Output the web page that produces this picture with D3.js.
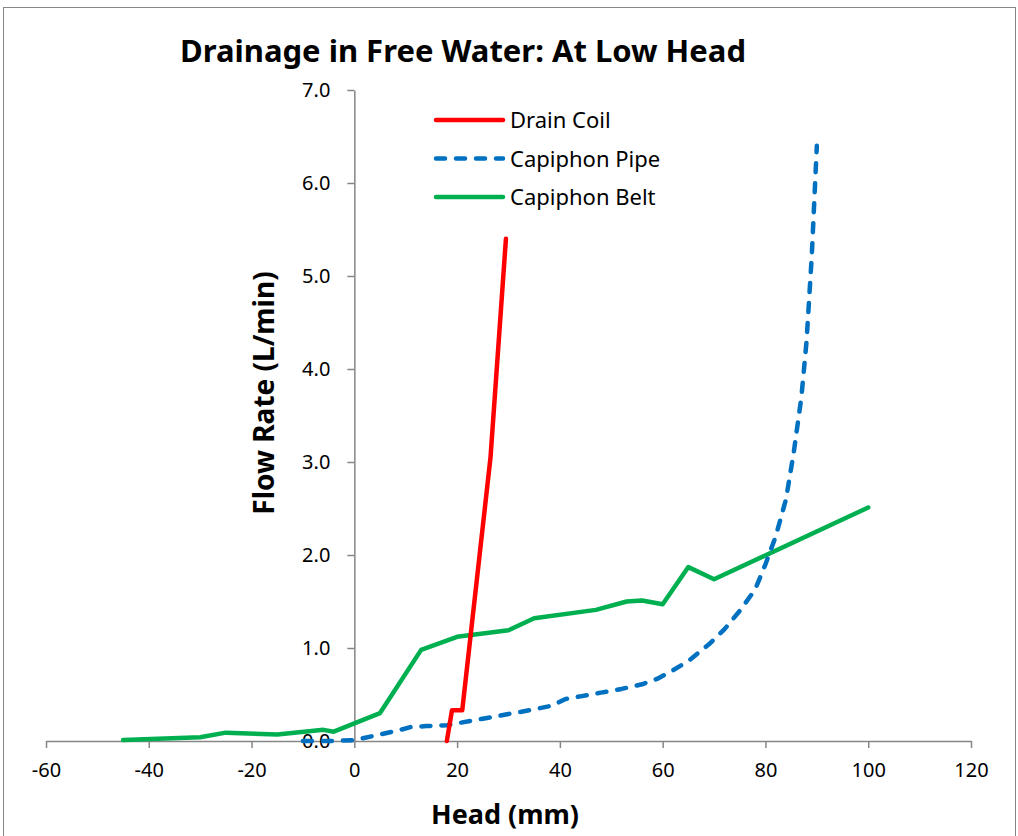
<!DOCTYPE html>
<html><head><meta charset="utf-8">
<script src="https://cdn.jsdelivr.net/npm/d3@7"></script>
<style>body{margin:0;background:#fff}svg{display:block}text{font-family:"Noto Sans",sans-serif}</style>
</head><body><svg id="c" width="1018" height="836"></svg>
<script>
const xTicks=[-60,-40,-20,0,20,40,60,80,100,120];
const yTicks=[0,1,2,3,4,5,6,7];
const seriesNames=["Drain Coil","Capiphon Pipe","Capiphon Belt"];
const drainCoilX=[18,19,21,26.5,29.5];
const drainCoilY=[0,0.33,0.33,3.05,5.4];
const pipeX=[-10,-5,0,5,9,11,14,18,20,25,30,34,38.5,41,44,48,52,56,59,62,65,69,72,75,78,80,82,84,85.5,87,88,89,90];
const pipeY=[0,0.0,0.01,0.07,0.12,0.15,0.16,0.17,0.19,0.24,0.29,0.33,0.38,0.45,0.48,0.52,0.56,0.61,0.67,0.76,0.86,1.04,1.20,1.40,1.63,1.90,2.20,2.60,3.10,3.70,4.30,5.20,6.40];
const beltX=[-45,-30,-25,-15,-6,-4,5,13,20,30,35,47,53,56,60,65,70,100];
const beltY=[0.01,0.04,0.09,0.07,0.12,0.10,0.30,0.98,1.12,1.19,1.32,1.41,1.50,1.51,1.47,1.87,1.74,2.51];

const svg=d3.select("#c");
const x=d3.scaleLinear().domain([-60,120]).range([46,971]);
const y=d3.scaleLinear().domain([0,7]).range([741,90]);
const gray="#868686";

svg.append("rect").attr("x",3.5).attr("y",7.5).attr("width",1012).attr("height",840)
  .attr("fill","none").attr("stroke",gray).attr("stroke-width",1);

svg.append("text").attr("x",463).attr("y",62).attr("text-anchor","middle")
  .attr("font-size",31).attr("font-weight","bold").text("Drainage in Free Water: At Low Head");

// x axis at y=0
const gx=svg.append("g").attr("transform",`translate(0,${y(0)})`)
  .call(d3.axisBottom(x).tickValues(xTicks).tickSize(7).tickSizeOuter(0).tickFormat(d=>String(d)));
gx.select(".domain").attr("stroke",gray).attr("stroke-width",1.5);
gx.selectAll(".tick line").attr("stroke",gray).attr("stroke-width",1.5);
gx.selectAll(".tick text").attr("font-size",20).attr("fill","#000").attr("y",22).attr("font-family","Noto Sans");

// y axis at x=0
const gy=svg.append("g").attr("transform",`translate(${x(0)},0)`)
  .call(d3.axisLeft(y).tickValues(yTicks).tickSize(7).tickSizeOuter(0).tickFormat(d3.format(".1f")));
gy.select(".domain").attr("stroke",gray).attr("stroke-width",1.5);
gy.selectAll(".tick line").attr("stroke",gray).attr("stroke-width",1.5);
gy.selectAll(".tick text").attr("font-size",20).attr("fill","#000").attr("x",-24).attr("font-family","Noto Sans");

svg.append("text").attr("x",505).attr("y",824).attr("text-anchor","middle")
  .attr("font-size",27).attr("font-weight","bold").text("Head (mm)");
svg.append("text").attr("transform","translate(274,393) rotate(-90)").attr("text-anchor","middle")
  .attr("font-size",28).attr("font-weight","bold").text("Flow Rate (L/min)");

const line=d3.line().x(d=>x(d[0])).y(d=>y(d[1]));
const series=[
  {name:seriesNames[0],pts:d3.zip(drainCoilX,drainCoilY),color:"#FF0000",dash:null},
  {name:seriesNames[1],pts:d3.zip(pipeX,pipeY),color:"#0070C0",dash:"9,11"},
  {name:seriesNames[2],pts:d3.zip(beltX,beltY),color:"#00B050",dash:null}
];
const order=[2,1,0];
order.forEach(i=>{
  const s=series[i];
  svg.append("path").attr("d",line(s.pts)).attr("fill","none").attr("stroke",s.color)
    .attr("stroke-width",4.5).attr("stroke-linecap","round").attr("stroke-linejoin","round")
    .attr("stroke-dasharray",s.dash);
});

// legend
series.forEach((s,i)=>{
  const ly=120+i*38.5;
  svg.append("line").attr("x1",436).attr("x2",503).attr("y1",ly).attr("y2",ly)
    .attr("stroke",s.color).attr("stroke-width",4.5).attr("stroke-linecap","round")
    .attr("stroke-dasharray",s.dash);
  svg.append("text").attr("x",510).attr("y",ly+8).attr("font-size",22).text(s.name);
});
</script></body></html>
